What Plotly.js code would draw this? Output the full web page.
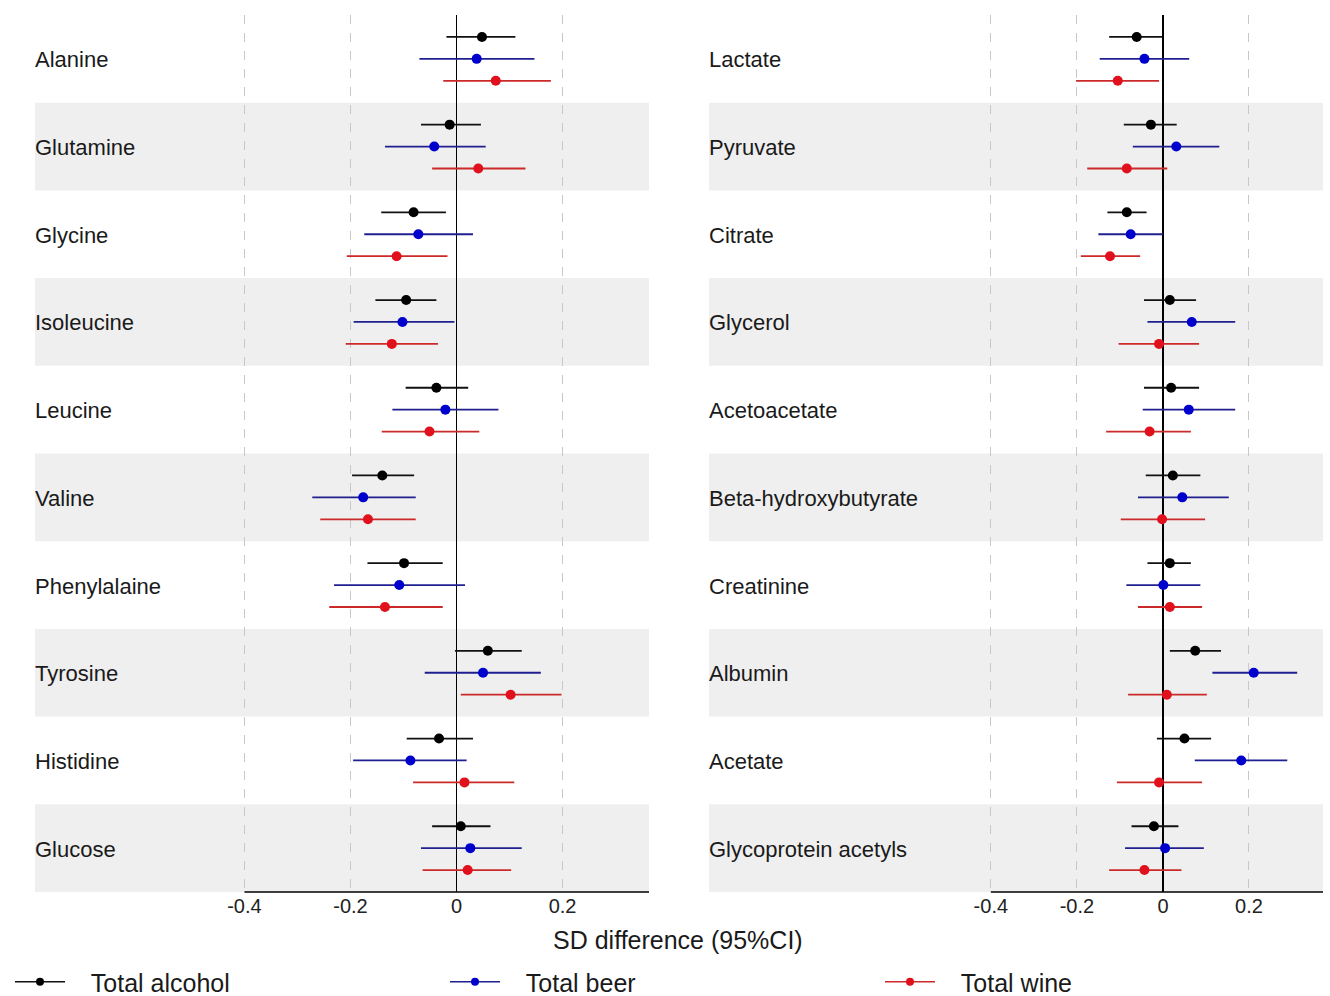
<!DOCTYPE html>
<html>
<head>
<meta charset="utf-8">
<script src="https://cdn.plot.ly/plotly-3.0.1.min.js"></script>
<style>html,body{margin:0;padding:0;background:#fff;}#chart{width:1330px;height:996px;}</style>
</head>
<body>
<div id="chart"></div>
<script>
// ---- data ----
const leftMetabolites = ["Alanine","Glutamine","Glycine","Isoleucine","Leucine","Valine","Phenylalaine","Tyrosine","Histidine","Glucose"];
const rightMetabolites = ["Lactate","Pyruvate","Citrate","Glycerol","Acetoacetate","Beta-hydroxybutyrate","Creatinine","Albumin","Acetate","Glycoprotein acetyls"];

const alcoholLeft   = [0.048,-0.013,-0.081,-0.095,-0.038,-0.140,-0.099,0.059,-0.033,0.008];
const alcoholLeftLo = [-0.019,-0.067,-0.142,-0.153,-0.096,-0.197,-0.168,-0.003,-0.094,-0.046];
const alcoholLeftHi = [0.111,0.046,-0.020,-0.038,0.022,-0.080,-0.026,0.123,0.031,0.064];
const beerLeft      = [0.038,-0.042,-0.072,-0.102,-0.021,-0.176,-0.108,0.050,-0.087,0.026];
const beerLeftLo    = [-0.070,-0.135,-0.174,-0.194,-0.121,-0.272,-0.231,-0.060,-0.195,-0.067];
const beerLeftHi    = [0.147,0.055,0.031,-0.004,0.079,-0.077,0.016,0.159,0.019,0.123];
const wineLeft      = [0.074,0.041,-0.113,-0.122,-0.051,-0.167,-0.135,0.102,0.015,0.021];
const wineLeftLo    = [-0.025,-0.046,-0.207,-0.209,-0.141,-0.257,-0.240,0.008,-0.082,-0.064];
const wineLeftHi    = [0.178,0.130,-0.017,-0.035,0.043,-0.077,-0.026,0.198,0.109,0.103];

const alcoholRight   = [-0.061,-0.028,-0.084,0.016,0.019,0.023,0.016,0.075,0.050,-0.021];
const alcoholRightLo = [-0.125,-0.091,-0.129,-0.044,-0.044,-0.040,-0.036,0.016,-0.014,-0.073];
const alcoholRightHi = [0.000,0.032,-0.038,0.077,0.084,0.087,0.065,0.135,0.112,0.036];
const beerRight      = [-0.043,0.031,-0.075,0.067,0.060,0.045,0.001,0.211,0.182,0.005];
const beerRightLo    = [-0.147,-0.070,-0.150,-0.036,-0.047,-0.058,-0.085,0.115,0.074,-0.088];
const beerRightHi    = [0.061,0.131,0.000,0.168,0.168,0.153,0.087,0.312,0.289,0.095];
const wineRight      = [-0.105,-0.084,-0.123,-0.009,-0.031,-0.002,0.016,0.009,-0.009,-0.043];
const wineRightLo    = [-0.202,-0.176,-0.191,-0.103,-0.132,-0.098,-0.058,-0.081,-0.107,-0.125];
const wineRightHi    = [-0.009,0.010,-0.053,0.084,0.065,0.098,0.091,0.102,0.091,0.043];

const seriesNames = ["Total alcohol","Total beer","Total wine"];
const tickValues = [-0.4,-0.2,0,0.2];
const tickLabels = ["-0.4","-0.2","0","0.2"];
const axisTitle = "SD difference (95%CI)";

// ---- styles ----
const markerColors = ["#000000","#0000cc","#e0101c"];
const barColors = ["#111111","#1f1f8f","#cc2a2a"];
const offsets = [-0.25, 0, 0.25];
const leftRange = [-0.795, 0.363];
const rightRange = [-1.055, 0.372];
const font = "Arial, 'Liberation Sans', sans-serif";

const panels = [
  {cats: leftMetabolites, xa: "x", ya: "y", sets: [[alcoholLeft,alcoholLeftLo,alcoholLeftHi],[beerLeft,beerLeftLo,beerLeftHi],[wineLeft,wineLeftLo,wineLeftHi]], range: leftRange},
  {cats: rightMetabolites, xa: "x2", ya: "y2", sets: [[alcoholRight,alcoholRightLo,alcoholRightHi],[beerRight,beerRightLo,beerRightHi],[wineRight,wineRightLo,wineRightHi]], range: rightRange}
];

const traces = [];
const shapes = [];
const annotations = [];

panels.forEach(p => {
  const xd = p.xa === "x" ? "x domain" : "x2 domain";
  const yd = p.ya === "y" ? "y domain" : "y2 domain";
  p.cats.forEach((c, i) => {
    if (i % 2 === 1) {
      shapes.push({type:"rect", xref:xd, yref:p.ya, x0:0, x1:1, y0:i-0.5, y1:i+0.5, fillcolor:"#efefef", line:{width:0}, layer:"below"});
    }
    annotations.push({xref:xd, yref:p.ya, x:0, xshift:-2, yshift:-1, y:i, xanchor:"left", yanchor:"middle", text:c, showarrow:false, font:{family:font, size:22, color:"#1a1a1a"}});
  });
  shapes.push({type:"line", xref:p.xa, yref:yd, x0:tickValues[0], x1:p.range[1], y0:0, y1:0, line:{color:"#000", width:1.5}, layer:"above"});
  p.sets.forEach((s, k) => {
    const [v, lo, hi] = s;
    traces.push({
      type:"scatter", mode:"markers", xaxis:p.xa, yaxis:p.ya, showlegend:false, hoverinfo:"skip",
      x: v, y: v.map((_, i) => i + offsets[k]),
      marker:{color:markerColors[k], size:10},
      error_x:{type:"data", symmetric:false, array:v.map((d,i)=>hi[i]-d), arrayminus:v.map((d,i)=>d-lo[i]), width:0, thickness:1.8, color:barColors[k]}
    });
  });
});

// legend-only traces
seriesNames.forEach((n, k) => {
  traces.push({type:"scatter", mode:"lines+markers", x:[null], y:[null], name:"\u00a0\u00a0\u00a0" + n, showlegend:true,
    line:{color:barColors[k], width:1.6}, marker:{color:markerColors[k], size:8}});
});

annotations.push({xref:"paper", yref:"paper", x:678/1330, y:1-940/996, xanchor:"center", yanchor:"middle", text:axisTitle, showarrow:false, font:{family:font, size:25, color:"#1a1a1a"}});

const xaxisBase = {
  tickvals: tickValues, ticktext: tickLabels, showgrid:true, gridcolor:"#c8c8c8", griddash:"dash", gridwidth:1,
  zeroline:true, zerolinecolor:"#000", zerolinewidth:1.5, showline:false, ticks:"", fixedrange:true,
  tickfont:{family:font, size:20, color:"#222"}
};
const yaxisBase = {range:[9.5,-0.5], showgrid:false, zeroline:false, showticklabels:false, ticks:"", showline:false, fixedrange:true};

const layout = {
  width:1330, height:996, margin:{l:0, r:0, t:0, b:0, autoexpand:false}, paper_bgcolor:"#fff", plot_bgcolor:"rgba(0,0,0,0)",
  xaxis: Object.assign({}, xaxisBase, {domain:[35/1330, 649/1330], range:leftRange, anchor:"y"}),
  xaxis2: Object.assign({}, xaxisBase, {domain:[709/1330, 1323/1330], range:rightRange, anchor:"y2"}),
  yaxis: Object.assign({}, yaxisBase, {domain:[1-892/996, 1-15/996], anchor:"x"}),
  yaxis2: Object.assign({}, yaxisBase, {domain:[1-892/996, 1-15/996], anchor:"x2"}),
  shapes: shapes, annotations: annotations,
  showlegend:true,
  legend:{orientation:"h", x:10/1330, xanchor:"left", y:1-982/996, yanchor:"middle", entrywidth:370, entrywidthmode:"pixels", itemwidth:50,
    font:{family:font, size:25, color:"#1a1a1a"}, bgcolor:"rgba(0,0,0,0)"}
};

Plotly.newPlot("chart", traces, layout, {staticPlot:true, displayModeBar:false});
</script>
</body>
</html>
